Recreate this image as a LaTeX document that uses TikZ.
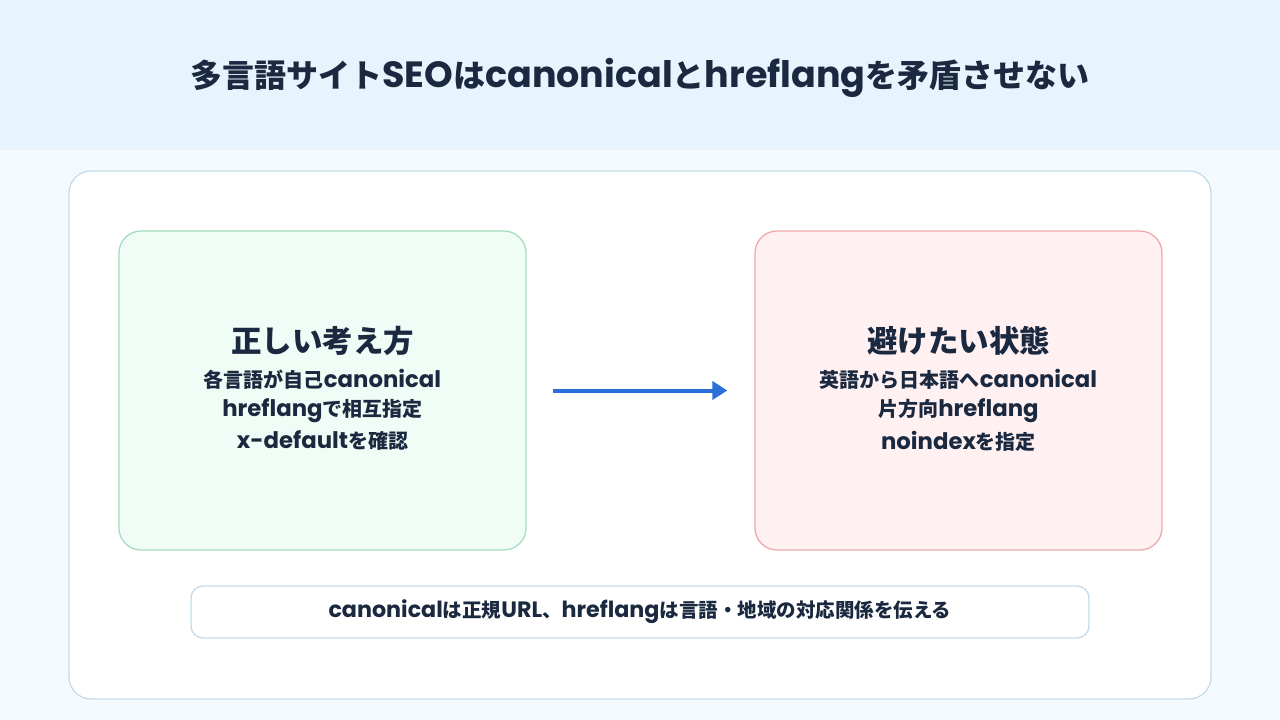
\documentclass[tikz,border=0pt]{standalone}
\usepackage{fontspec}
\setmainfont{Noto Sans CJK JP}
\newfontfamily\latinfont[Scale=1.14]{Poppins}
\newcommand\en[1]{{\latinfont #1}}
\usetikzlibrary{arrows.meta}

\definecolor{ink}{HTML}{1A2940}
\definecolor{bandblue}{HTML}{E8F4FD}
\definecolor{pageblue}{HTML}{F4F9FD}
\definecolor{panelline}{HTML}{C4DCE8}
\definecolor{goodfill}{HTML}{F0FDF6}
\definecolor{goodline}{HTML}{A6DCC0}
\definecolor{badfill}{HTML}{FFF1F2}
\definecolor{badline}{HTML}{EEA9AD}
\definecolor{flowblue}{HTML}{2B6FDB}

\tikzset{
  card/.style={draw, rounded corners=22pt, line width=1.3pt, minimum width=407pt, minimum height=319pt},
  cardtitle/.style={text=ink, font=\bfseries\fontsize{30.5}{34}\selectfont},
  cardline/.style={text=ink, font=\bfseries\fontsize{20}{24}\selectfont},
  flow/.style={draw=flowblue, line width=4pt, -{Triangle[length=15pt,width=18pt]}}
}

\begin{document}
\begin{tikzpicture}[x=1pt, y=-1pt]
                % Define background
                \useasboundingbox (0,0) rectangle (1280,720);
                \fill[pageblue] (0,0) rectangle (1280,720);
                \fill[bandblue] (0,0) rectangle (1280,150);
                \node[text=ink, font=\bfseries\fontsize{32}{36}\selectfont] (title) at (640,78)
                {多言語サイト\en{SEO}は\en{canonical}と\en{hreflang}を矛盾させない};
                
                % Define panel and cards
                \node[draw=panelline, fill=white, rounded corners=22pt, line width=1.3pt,
                minimum width=1142pt, minimum height=528pt] (panel) at (640,435) {};
                \node[card, draw=goodline, fill=goodfill] (good) at (322.5,390.5) {};
                \node[card, draw=badline, fill=badfill] (bad) at (958.5,390.5) {};
                \node[draw=panelline, fill=white, rounded corners=12pt, line width=1.3pt,
                minimum width=898pt, minimum height=52pt, text=ink,
                font=\bfseries\fontsize{19.5}{24}\selectfont] (note) at (640,612)
                {\en{canonical}は正規\en{URL}、\en{hreflang}は言語・地域の対応関係を伝える};
                
                % Card texts
                \node[cardtitle] (goodtitle) at (322.5,341) {正しい考え方};
                \node[cardline] (good1) at (322.5,379) {各言語が自己\en{canonical}};
                \node[cardline] (good2) at (322.5,411) {\en{hreflang}で相互指定};
                \node[cardline] (good3) at (322.5,441) {\en{x-default}を確認};
                \node[cardtitle] (badtitle) at (958.5,341) {避けたい状態};
                \node[cardline] (bad1) at (958.5,379) {英語から日本語へ\en{canonical}};
                \node[cardline] (bad2) at (958.5,411) {片方向\en{hreflang}};
                \node[cardline] (bad3) at (958.5,441) {\en{noindex}を指定};
                
                % Draw arrow
                \draw[flow, shorten <=26pt, shorten >=27pt] (good) -- (bad);
            \end{tikzpicture}
\end{document}
